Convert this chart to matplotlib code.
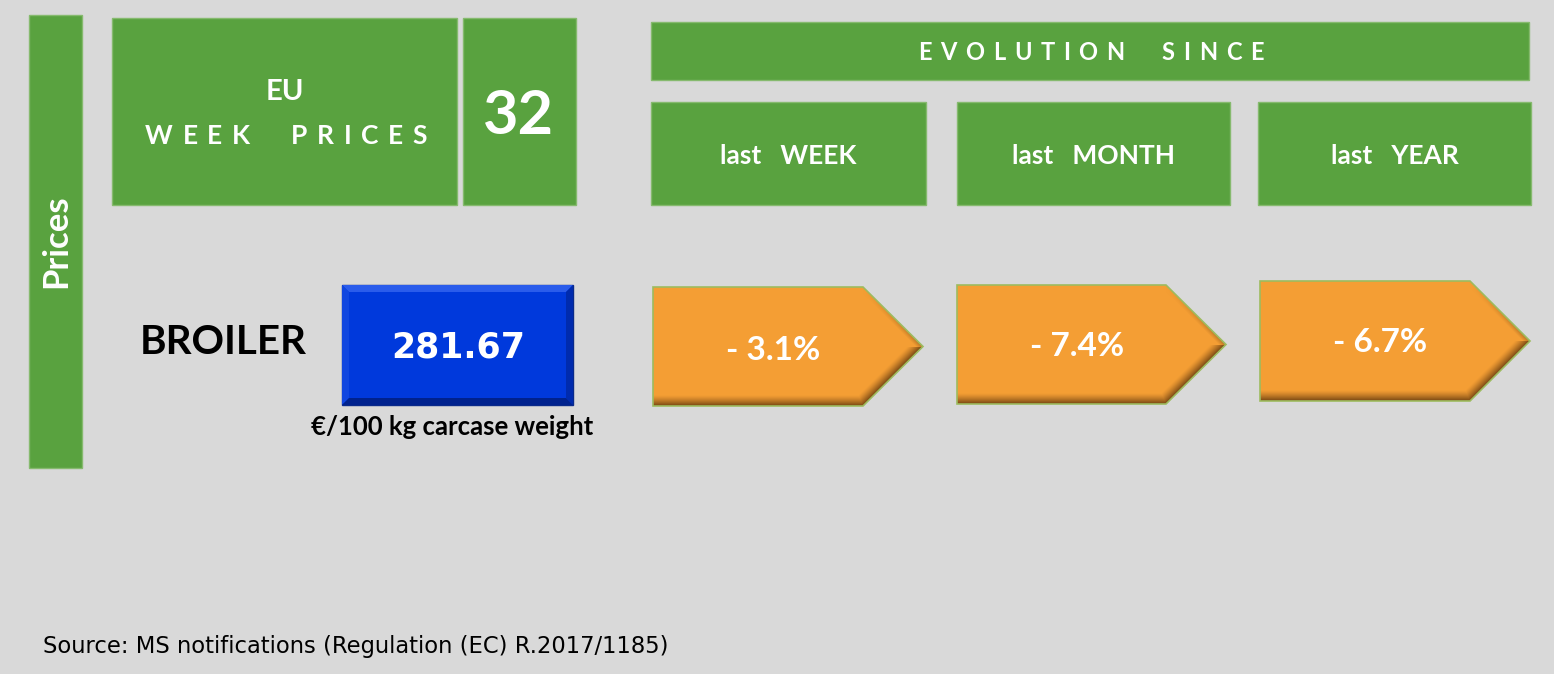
import matplotlib
matplotlib.use("Agg")
import matplotlib.pyplot as plt
import numpy as np
from matplotlib.patches import Rectangle, Polygon

# ---------------- data ----------------
week_number = 32
product = "BROILER"
price = 281.67
price_unit = "€/100 kg carcase weight"
periods = ["last   WEEK", "last   MONTH", "last   YEAR"]
changes = [-3.1, -7.4, -6.7]
side_label = "Prices"
header_left = ["EU", "WEEK  PRICES"]
header_right = "EVOLUTION  SINCE"
source = "Source: MS notifications (Regulation (EC) R.2017/1185)"

# ---------------- style ----------------
BG = "#D9D9D9"
GREEN = "#59A23F"
GREEN_EDGE = "#86BA6E"
ORANGE = np.array([244, 158, 52]) / 255
BROWN = np.array([115, 68, 18]) / 255
BLUE = "#0039DC"
FONT = "Lato"

W, H = 1554, 674
fig = plt.figure(figsize=(W / 100, H / 100), dpi=100)
fig.patch.set_facecolor(BG)
ax = fig.add_axes([0, 0, 1, 1])
ax.set_xlim(0, W)
ax.set_ylim(H, 0)
ax.axis("off")
ax.set_facecolor(BG)
renderer = fig.canvas.get_renderer()


def box(x0, x1, y0, y1, color=GREEN, edge=GREEN_EDGE):
    ax.add_patch(Rectangle((x0, y0), x1 - x0, y1 - y0, facecolor=color,
                           edgecolor=edge, lw=1.0, zorder=1))


def tracked_text(cx, cy, s, tracking, size, **kw):
    """Draw text with extra letter spacing (tracking in px), centred at cx."""
    widths = []
    for ch in s:
        if ch == " ":
            widths.append(size * 100 / 72 * 0.25)
            continue
        t = ax.text(0, 0, ch, fontsize=size, fontfamily=FONT, fontweight="bold")
        bb = t.get_window_extent(renderer)
        widths.append(bb.width)
        t.remove()
    total = sum(widths) + tracking * (len(s) - 1)
    x = cx - total / 2
    for ch, w in zip(s, widths):
        if ch != " ":
            ax.text(x, cy, ch, fontsize=size, fontfamily=FONT, fontweight="bold",
                    ha="left", va="center", color="white", zorder=5, **kw)
        x += w + tracking


# side bar
box(29, 82, 15, 468)
ax.text(56, 241, side_label, rotation=90, fontsize=25, fontfamily=FONT,
        fontweight="bold", color="white", ha="center", va="center", zorder=5)

# EU week prices header
box(112, 457, 18, 205)
ax.text(285, 92, header_left[0], fontsize=21, fontfamily=FONT, fontweight="bold",
        color="white", ha="center", va="center", zorder=5)
tracked_text(286, 136, header_left[1], 9.5, 19)

box(463, 576, 18, 205)
ax.text(519, 116, str(week_number), fontsize=44, fontfamily=FONT, fontweight="bold",
        color="white", ha="center", va="center", zorder=5)

# evolution header
box(651, 1529, 22, 80)
tracked_text(1091, 52, header_right, 8.6, 17)

period_x = [(651, 926), (957, 1230), (1258, 1531)]
for (x0, x1), lab in zip(period_x, periods):
    box(x0, x1, 102, 205)
    ax.text((x0 + x1) / 2, 156, lab, fontsize=19, fontfamily=FONT, fontweight="bold",
            color="white", ha="center", va="center", zorder=5)

# product label
ax.text(223, 343, product, fontsize=29, fontfamily=FONT, fontweight="bold",
        color="black", ha="center", va="center", zorder=5)

# blue price box with bevel
bx0, bx1, by0, by1 = 342, 573, 285, 405
bv = 7
ax.add_patch(Rectangle((bx0, by0), bx1 - bx0, by1 - by0, facecolor=BLUE,
                       edgecolor="#0A2A8A", lw=1.0, zorder=2))
ax.add_patch(Polygon([(bx0, by0), (bx1, by0), (bx1 - bv, by0 + bv), (bx0 + bv, by0 + bv)],
                     closed=True, facecolor="#2A5CEB", edgecolor="none", zorder=3))
ax.add_patch(Polygon([(bx0, by0), (bx0 + bv, by0 + bv), (bx0 + bv, by1 - bv), (bx0, by1)],
                     closed=True, facecolor="#1046E0", edgecolor="none", zorder=3))
ax.add_patch(Polygon([(bx1, by0), (bx1, by1), (bx1 - bv, by1 - bv), (bx1 - bv, by0 + bv)],
                     closed=True, facecolor="#002BAE", edgecolor="none", zorder=3))
ax.add_patch(Polygon([(bx0, by1), (bx1, by1), (bx1 - bv, by1 - bv), (bx0 + bv, by1 - bv)],
                     closed=True, facecolor="#00228E", edgecolor="none", zorder=3))
ax.text((bx0 + bx1) / 2 + 1, 347, f"{price:.2f}", fontsize=25, fontfamily="DejaVu Sans",
        fontweight="bold", color="white", ha="center", va="center", zorder=5)
ax.text(452, 427, price_unit, fontsize=18.5, fontfamily=FONT, fontweight="bold",
        color="black", ha="center", va="center", zorder=5)

# orange arrows with shaded lower edges
arrow_geom = [(653, 923, 287, 406), (957, 1226, 285, 404), (1260, 1530, 281, 401)]
text_y = [350, 346, 343]
for (x0, x1, y0, y1), val, ty in zip(arrow_geom, changes, text_y):
    notch = x1 - 60
    ym = (y0 + y1) / 2
    pts = [(x0, y0), (notch, y0), (x1, ym), (notch, y1), (x0, y1)]
    xs = np.arange(x0, x1 + 1) + 0.5
    ys = np.arange(y0, y1 + 1) + 0.5
    XX, YY = np.meshgrid(xs, ys)
    d_bot = y1 - YY
    dx, dy = x1 - notch, ym - y1
    ln = np.hypot(dx, dy)
    d_diag = np.abs(((XX - notch) * dy - (YY - y1) * dx) / ln)
    d_diag = np.where(YY > ym, d_diag, 1e3)
    d_top = np.abs(((XX - notch) * (ym - y0) - (YY - y0) * (x1 - notch)) /
                   np.hypot(x1 - notch, ym - y0))
    d_top = np.where((YY <= ym) & (XX > notch), d_top, 1e3)
    d = np.minimum(d_bot, d_diag)
    shade = np.clip(1 - d / 11.0, 0, 1) ** 1.3
    shade = np.maximum(shade, 0.5 * np.clip(1 - d_top / 5.0, 0, 1) *
                       np.clip((XX - notch) / (x1 - notch), 0, 1))
    img = ORANGE[None, None, :] * (1 - shade[..., None]) + BROWN[None, None, :] * shade[..., None]
    poly = Polygon(pts, closed=True, facecolor="none", edgecolor="#9DBB5F", lw=1.2, zorder=4)
    im = ax.imshow(img, extent=(x0, x1 + 1, y1 + 1, y0), origin="upper",
                   interpolation="bilinear", zorder=3, aspect="auto")
    ax.add_patch(poly)
    im.set_clip_path(poly)
    ax.text(x0 + 120, ty, f"- {abs(val):.1f}%", fontsize=24, fontfamily=FONT,
            fontweight="bold", color="white", ha="center", va="center", zorder=5)

ax.set_xlim(0, W)
ax.set_ylim(H, 0)

# source
ax.text(43, 647, source, fontsize=16.3, fontfamily="DejaVu Sans", color="black",
        ha="left", va="center", zorder=5)

fig.savefig("out.png", dpi=100, facecolor=BG)
